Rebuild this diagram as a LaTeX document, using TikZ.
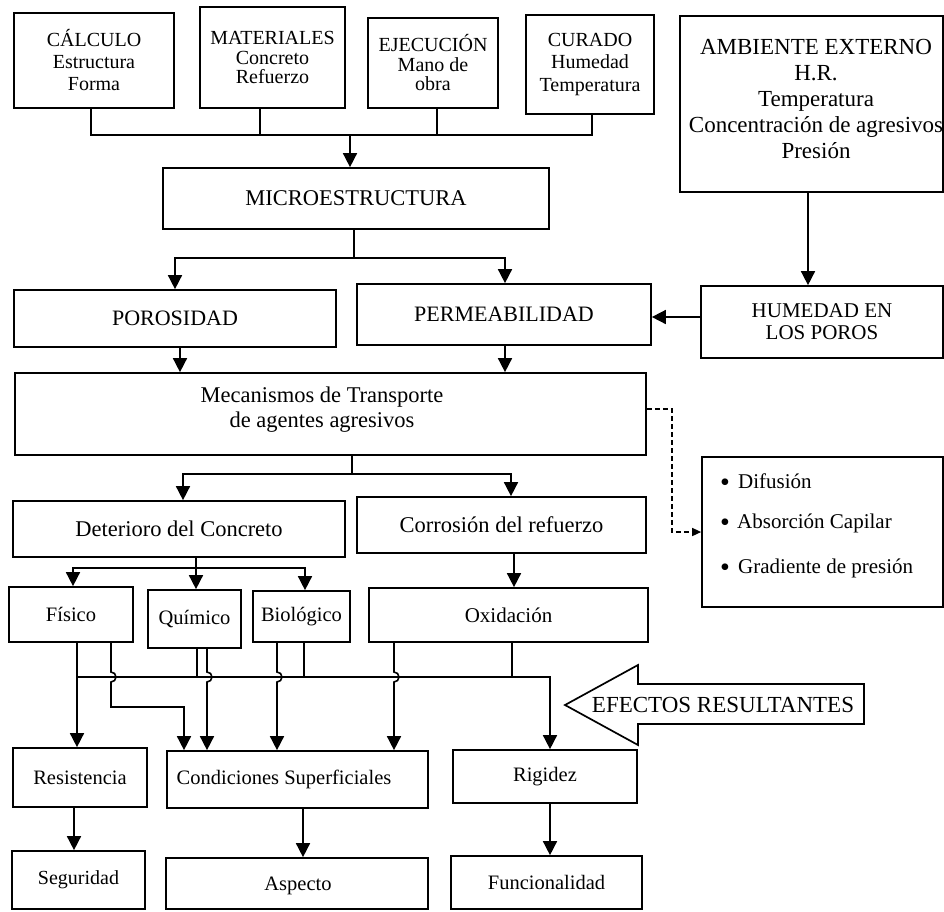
\documentclass[tikz,border=0pt]{standalone}
\usepackage{fontspec}
\setmainfont{Liberation Serif}
\usetikzlibrary{arrows.meta,calc}
\newcommand\myfs[2]{\fontsize{#1}{#2}\selectfont}
\begin{document}
\begin{tikzpicture}[x=1pt,y=-1pt,
  box/.style={draw,line width=1.7pt,inner sep=0pt,align=center,font=\myfs{20.5}{22}},
  txt/.style={inner sep=0pt,align=center},
  ln/.style={line width=1.6pt},
  arr/.style={line width=1.6pt,-{Triangle[length=14pt,width=14pt]}},
  darr/.style={line width=1.5pt,dash pattern=on 5pt off 3pt,-{Triangle[length=9pt,width=8pt]}},
  bullet/.style={inner sep=0pt,anchor=base,font=\myfs{28}{28}}
]
\useasboundingbox (0,0) rectangle (944,911);
% top row
\node[box,minimum width=160pt,minimum height=95pt,font=\myfs{20}{22}] (calc) at (94,60.5) {CÁLCULO\\Estructura\\Forma};
\node[box,minimum width=145pt,minimum height=101pt,font=\myfs{20}{19.5}] (mat) at (272.5,57.5) {MATERIALES\\Concreto\\Refuerzo};
\node[box,minimum width=130pt,minimum height=90pt,font=\myfs{20}{19.5}] (eje) at (433,63) {EJECUCIÓN\\Mano de\\obra};
\node[box,minimum width=128pt,minimum height=99pt,font=\myfs{20}{22.5}] (cur) at (590,64.5) {CURADO\\Humedad\\Temperatura};
\node[box,minimum width=263pt,minimum height=176pt] (amb) at (811.5,104) {};
\node[txt,font=\myfs{23}{26.2}] (ambt) at (816,99) {AMBIENTE EXTERNO\\H.R.\\Temperatura\\Concentración de agresivos\\Presión};
% second level
\node[box,minimum width=386pt,minimum height=61pt,font=\myfs{22.5}{24}] (micro) at (356,198.5) {MICROESTRUCTURA};
\node[box,minimum width=322pt,minimum height=57pt,font=\myfs{22}{24}] (poro) at (175,318.5) {POROSIDAD};
\node[box,minimum width=294pt,minimum height=61pt,font=\myfs{22}{24}] (perm) at (504,314.5) {PERMEABILIDAD};
\node[box,minimum width=242pt,minimum height=72pt,font=\myfs{21}{22}] (hum) at (822,322) {HUMEDAD EN\\LOS POROS};
\node[box,minimum width=631pt,minimum height=82pt] (mec) at (330.5,414) {};
\node[txt,font=\myfs{22.5}{25}] (mect) at (322,410) {Mecanismos de Transporte\\de agentes agresivos};
\node[box,minimum width=241pt,minimum height=150pt] (bul) at (822.5,532) {};
\node[bullet] (b1) at (725,491) {•};
\node[bullet] (b2) at (725,531) {•};
\node[bullet] (b3) at (725,576) {•};
\node[txt,anchor=base west,font=\myfs{21}{22}] (t1) at (738,488) {Difusión};
\node[txt,anchor=base west,font=\myfs{21}{22}] (t2) at (737,528) {Absorción Capilar};
\node[txt,anchor=base west,font=\myfs{21}{22}] (t3) at (738,573) {Gradiente de presión};
% third level
\node[box,minimum width=332pt,minimum height=56pt,font=\myfs{22.5}{24}] (det) at (179,529) {Deterioro del Concreto};
\node[box,minimum width=289pt,minimum height=56pt,font=\myfs{22.5}{24}] (cor) at (501.5,525) {Corrosión del refuerzo};
\node[box,minimum width=124pt,minimum height=55pt] (fis) at (71,614.5) {Físico};
\node[box,minimum width=93pt,minimum height=58pt] (qui) at (194.5,619) {Químico};
\node[box,minimum width=97pt,minimum height=51pt] (bio) at (301.5,616.5) {Biológico};
\node[box,minimum width=279pt,minimum height=54pt,font=\myfs{21}{22}] (oxi) at (508.5,615) {Oxidación};
% effects
\node[box,minimum width=134pt,minimum height=59pt] (res) at (80,777.5) {Resistencia};
\node[box,minimum width=261pt,minimum height=57pt] (con) at (297.5,779.5) {};
\node[txt,font=\myfs{20.5}{22}] (cont) at (284,779) {Condiciones Superficiales};
\node[box,minimum width=184pt,minimum height=53pt] (rig) at (545,776.5) {Rigidez};
\node[box,minimum width=133pt,minimum height=58pt,font=\myfs{20}{22}] (seg) at (78.5,880) {Seguridad};
\node[box,minimum width=262pt,minimum height=51pt] (asp) at (297,883.5) {};
\node[txt,font=\myfs{20.5}{22}] (aspt) at (298,886) {Aspecto};
\node[box,minimum width=191pt,minimum height=53pt] (fun) at (546.5,882.5) {Funcionalidad};
% big arrow
\draw[line width=1.7pt,line join=miter] (565,705) -- (638,665) -- (638,684) -- (864,684) -- (864,724) -- (638,724) -- (638,745) -- cycle;
\node[txt,font=\myfs{23}{24}] (efe) at (723,705) {EFECTOS RESULTANTES};
% top connectors
\coordinate (tbL) at (91,135);
\coordinate (tbR) at (592,135);
\coordinate (tbM) at (350,135);
\draw[ln] (calc.south -| tbL) -- (tbL) -- (tbR) -- (cur.south -| tbR);
\draw[ln] ([xshift=-12.5pt]mat.south) -- ([xshift=-12.5pt]mat.south |- tbL);
\draw[ln] ([xshift=4pt]eje.south) -- ([xshift=4pt]eje.south |- tbL);
\draw[arr] (tbM) -- (tbM |- micro.north);
% micro to porosity / permeability
\coordinate (mb) at (354,258);
\draw[ln] (micro.south -| mb) -- (mb);
\draw[arr] (mb) -| (poro.north);
\draw[arr] (mb) -| ([xshift=1pt]perm.north);
\draw[arr] ([xshift=-3.5pt]amb.south) -- ([xshift=-3.5pt]amb.south |- hum.north);
\draw[arr] ([yshift=5pt]hum.west) -- ([yshift=5pt]hum.west -| perm.east);
\draw[arr] ([xshift=5pt]poro.south) -- ([xshift=5pt]poro.south |- mec.north);
\draw[arr] ([xshift=1pt]perm.south) -- ([xshift=1pt]perm.south |- mec.north);
% mechanisms
\coordinate (mc) at (352,474);
\draw[ln] (mc |- mec.south) -- (mc);
\draw[arr] (mc) -| ([xshift=4pt]det.north);
\draw[arr] (mc) -| ([xshift=9.5pt]cor.north);
\draw[darr] ([yshift=5pt]mec.east) -- ++(25,0) |- (bul.west);
% deterioration
\coordinate (dc) at (196,568);
\draw[ln] (dc |- det.south) -- (dc);
\draw[arr] (dc) -| ([xshift=2pt]fis.north);
\draw[arr] (dc) -- (dc |- qui.north);
\draw[arr] (dc) -| ([xshift=3.5pt]bio.north);
\draw[arr] ([xshift=12.5pt]cor.south) -- ([xshift=12.5pt]cor.south |- oxi.north);
% lower bus
\coordinate (bL) at (77,677);
\coordinate (bR) at (550,677);
\coordinate (q1) at (197,677);
\coordinate (bb2) at (304,677);
\coordinate (o2) at (512,677);
\coordinate (f2) at (111,677);
\coordinate (fk) at (184,707);
\coordinate (q2) at (207,677);
\coordinate (bb1) at (277,677);
\coordinate (o1) at (394,677);
\draw[arr] (fis.south -| bL) -- (res.north -| bL);
\draw[arr] (bL) -- (bR) -- (bR |- rig.north);
\draw[ln] (qui.south -| q1) -- (q1);
\draw[ln] (bio.south -| bb2) -- (bb2);
\draw[ln] (oxi.south -| o2) -- (o2);
\draw[arr] (fis.south -| f2) -- ([yshift=5pt]f2) arc[start angle=90,end angle=-90,radius=5pt] |- (fk) -- (fk |- con.north);
\draw[arr] (qui.south -| q2) -- ([yshift=5pt]q2) arc[start angle=90,end angle=-90,radius=5pt] -- (q2 |- con.north);
\draw[arr] (bio.south -| bb1) -- ([yshift=5pt]bb1) arc[start angle=90,end angle=-90,radius=5pt] -- (bb1 |- con.north);
\draw[arr] (oxi.south -| o1) -- ([yshift=5pt]o1) arc[start angle=90,end angle=-90,radius=5pt] -- (o1 |- con.north);
% final effects
\draw[arr] ([xshift=-6pt]res.south) -- ([xshift=-6pt]res.south |- seg.north);
\draw[arr] ([xshift=5.5pt]con.south) -- ([xshift=5.5pt]con.south |- asp.north);
\draw[arr] ([xshift=5pt]rig.south) -- ([xshift=5pt]rig.south |- fun.north);
\end{tikzpicture}
\end{document}
